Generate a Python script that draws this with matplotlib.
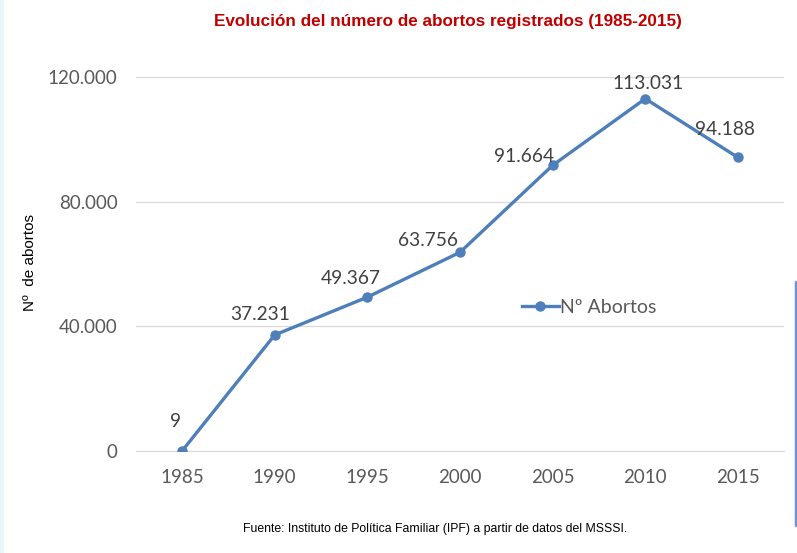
import matplotlib.pyplot as plt
from matplotlib.lines import Line2D

years = ['1985', '1990', '1995', '2000', '2005', '2010', '2015']
abortos = [9, 37231, 49367, 63756, 91664, 113031, 94188]
etiquetas = ['9', '37.231', '49.367', '63.756', '91.664', '113.031', '94.188']
yticks = [0, 40000, 80000, 120000]
ytick_labels = ['0', '40.000', '80.000', '120.000']

# label offsets in pixels (dx, dy) relative to each point
offsets = [(-6, 29), (-15, 20), (-17, 19), (-32, 12), (-29, 9), (3, 15), (-13, 28)]

blue = '#4F7FBA'
grey_txt = '#595959'

fig = plt.figure(figsize=(7.97, 5.53), dpi=100)
ax = fig.add_axes([0.1703, 0.1844, 0.8137, 0.6764])

x = list(range(len(years)))
ax.plot(x, abortos, color=blue, lw=2.4, marker='o', ms=6.5, label='Nº Abortos', zorder=3)

for i, (v, t) in enumerate(zip(abortos, etiquetas)):
    ax.annotate(t, (i, v), textcoords='offset pixels', xytext=offsets[i],
                ha='center', va='center', fontsize=13.8, color='#404040', family='Lato')

ax.set_xlim(-0.5, len(years) - 0.5)
ax.set_ylim(0, 120000)
ax.set_xticks(x)
ax.set_xticklabels(years)
ax.set_yticks(yticks)
ax.set_yticklabels(ytick_labels)
ax.tick_params(axis='both', length=0, labelsize=13.5, labelcolor=grey_txt, pad=13)
for lab in ax.get_xticklabels() + ax.get_yticklabels():
    lab.set_family('Lato')
ax.grid(axis='y', color='#D9D9D9', lw=0.9)
ax.set_axisbelow(True)
for s in ['top', 'right', 'left']:
    ax.spines[s].set_visible(False)
ax.spines['bottom'].set_color('#D9D9D9')

fig.text(0.038, 0.525, 'Nº  de abortos', rotation=90, ha='center', va='center',
         fontsize=11, family='Liberation Sans')

leg = ax.legend(loc='center left', bbox_to_anchor=(0.58, 0.385), frameon=False,
                prop={'family': 'Lato', 'size': 14}, handlelength=1.9,
                handletextpad=0.1, borderpad=0)
for t in leg.get_texts():
    t.set_color(grey_txt)

fig.text(0.562, 0.962, 'Evolución del número de abortos registrados (1985-2015)',
         ha='center', va='center', fontsize=12.3, fontweight='bold', color='#C00000',
         family='Liberation Sans')
fig.text(0.546, 0.044, 'Fuente: Instituto de Política Familiar (IPF) a partir de datos del MSSSI.',
         ha='center', va='center', fontsize=8.8, color='black', family='Liberation Sans')

# blue rounded border at the right edge
fig.add_artist(Line2D([0.9985, 0.9985], [0.05, 0.49], transform=fig.transFigure,
                      color='#6E93D6', lw=2.5, solid_capstyle='round'))
# faint tint at the left edge
fig.add_artist(Line2D([0.002, 0.002], [0, 1], transform=fig.transFigure,
                      color='#E8F7F8', lw=3))

fig.savefig('out.png', dpi=100)
